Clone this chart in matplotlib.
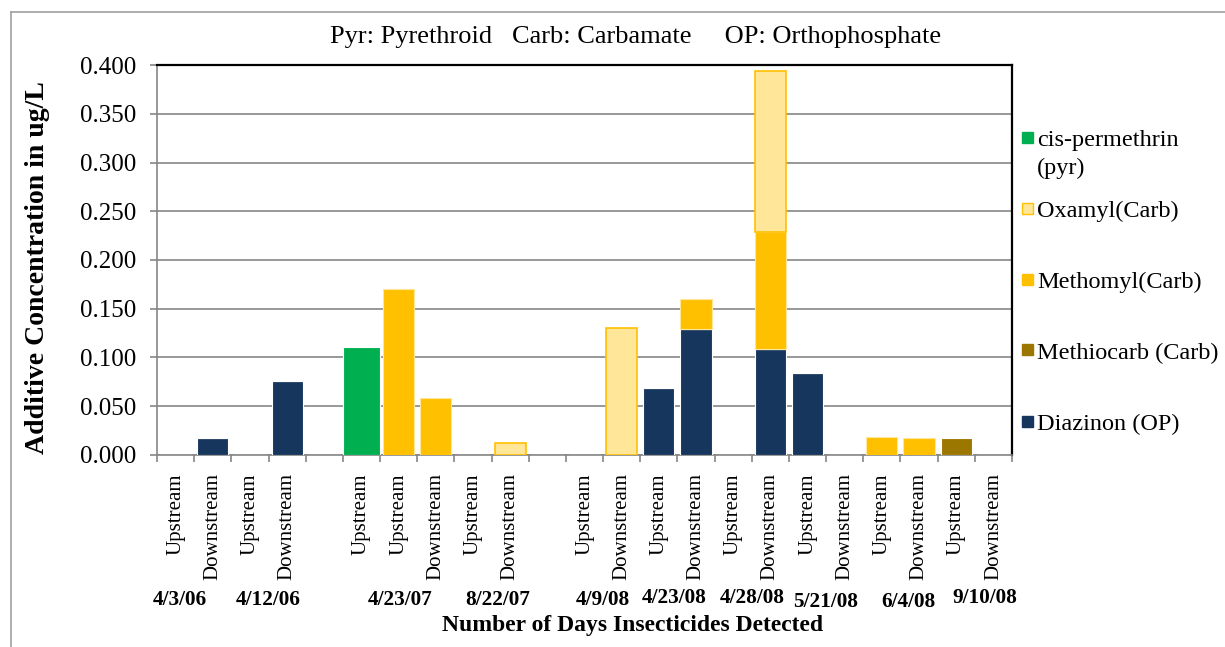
import numpy as np
import matplotlib
matplotlib.use('Agg')
import matplotlib.pyplot as plt
from matplotlib.patches import Rectangle

plt.rcParams['font.family'] = ['Liberation Serif', 'DejaVu Serif']

# categorias do eixo x (espacos vazios = intervalo entre grupos)
sites = ['Upstream', 'Downstream', 'Upstream', 'Downstream', '',
         'Upstream', 'Upstream', 'Downstream', 'Upstream', 'Downstream', '',
         'Upstream', 'Downstream', 'Upstream', 'Downstream', 'Upstream',
         'Downstream', 'Upstream', 'Downstream', 'Upstream', 'Downstream',
         'Upstream', 'Downstream']

dates = ['4/3/06', '4/12/06', '4/23/07', '8/22/07', '4/9/08', '4/23/08',
         '4/28/08', '5/21/08', '6/4/08', '9/10/08']
date_x = [0.12, 2.48, 6.03, 8.67, 11.49, 13.42, 15.52, 17.48, 19.7, 21.78]
date_dy = [0, 0, 0, 0, 0, 2, 2, -2, -2, 2]

# concentracoes (ug/L)
diazinon = [0, 0.017, 0, 0.076, 0, 0, 0, 0, 0, 0, 0,
            0, 0, 0.069, 0.129, 0, 0.109, 0.084, 0, 0, 0, 0, 0]
methiocarb = [0, 0, 0, 0, 0, 0, 0, 0, 0, 0, 0,
              0, 0, 0, 0, 0, 0, 0, 0, 0, 0, 0.017, 0]
methomyl = [0, 0, 0, 0, 0, 0, 0.170, 0.058, 0, 0, 0,
            0, 0, 0, 0.031, 0, 0.120, 0, 0, 0.018, 0.017, 0, 0]
oxamyl = [0, 0, 0, 0, 0, 0, 0, 0, 0, 0.012, 0,
          0, 0.130, 0, 0, 0, 0.165, 0, 0, 0, 0, 0, 0]
permethrin = [0, 0, 0, 0, 0, 0.111, 0, 0, 0, 0, 0,
              0, 0, 0, 0, 0, 0, 0, 0, 0, 0, 0, 0]

c_diaz = '#17365D'
c_methio = '#9C7700'
c_methomyl = '#FFC000'
c_oxa = '#FFE699'
c_perm = '#00B050'

fig = plt.figure(figsize=(12.25, 6.47), dpi=100)
ax = fig.add_axes([0.1282, 0.2968, 0.6979, 0.6027])

x = np.arange(len(sites))
w = 0.84
base = np.zeros(len(sites))
ax.bar(x, diazinon, w, bottom=base, color=c_diaz, edgecolor='white', lw=0.8, zorder=3)
base = base + np.array(diazinon)
ax.bar(x, methiocarb, w, bottom=base, color=c_methio, edgecolor='white', lw=0.8, zorder=3)
base = base + np.array(methiocarb)
mm = np.array(methomyl)
ax.bar(x[mm > 0], mm[mm > 0], w, bottom=base[mm > 0], color=c_methomyl,
       edgecolor='#FFE699', lw=0.8, zorder=3)
base = base + mm
ox = np.array(oxamyl)
ax.bar(x[ox > 0], ox[ox > 0], w, bottom=base[ox > 0], color=c_oxa,
       edgecolor=c_methomyl, lw=1.2, zorder=3)
base = base + ox
pm = np.array(permethrin)
ax.bar(x[pm > 0], pm[pm > 0], 0.97, bottom=base[pm > 0], color=c_perm,
       edgecolor='white', lw=0.8, zorder=3)

ax.set_xlim(-0.5, len(sites) - 0.5)
ax.set_ylim(0, 0.4)
ax.set_yticks(np.arange(0, 0.401, 0.05))
ax.set_yticklabels(['%.3f' % v for v in np.arange(0, 0.401, 0.05)], fontsize=18)
ax.yaxis.grid(True, color='#868686', lw=1.2, zorder=0)

# ticks nas fronteiras, rotulos no centro
ax.set_xticks(np.arange(-0.5, len(sites) + 0.5, 1.0))
ax.set_xticklabels([])
ax.set_xticks(x, minor=True)
ax.set_xticklabels(sites, minor=True, rotation=90, fontsize=15)
ax.tick_params(axis='x', which='minor', length=0, pad=13)
ax.tick_params(axis='x', which='major', length=5, color='#868686', width=1.2)
ax.tick_params(axis='y', length=5, color='#868686', width=1.2, pad=10)

for s in ['left', 'bottom']:
    ax.spines[s].set_color('#868686')
    ax.spines[s].set_linewidth(1.2)
for s in ['top', 'right']:
    ax.spines[s].set_color('black')
    ax.spines[s].set_linewidth(1.6)

for d, xp, dy in zip(dates, date_x, date_dy):
    ax.annotate(d, xy=(xp, 0), xycoords=('data', 'axes fraction'),
                xytext=(0, -145 + dy), textcoords='offset pixels',
                ha='center', va='center', fontsize=15.3, fontweight='bold')

fig.text(0.516, 0.033, 'Number of Days Insecticides Detected', ha='center',
         va='center', fontsize=17, fontweight='bold')
fig.text(0.031, 0.586, 'Additive Concentration in ug/L', ha='center', va='center',
         rotation=90, fontsize=20, fontweight='bold')
fig.text(0.519, 0.943, 'Pyr: Pyrethroid   Carb: Carbamate     OP: Orthophosphate',
         ha='center', va='center', fontsize=19)

# legenda montada a mao (Excel centraliza a entrada de duas linhas)
leg_labels = ['cis-permethrin\n(pyr)', 'Oxamyl(Carb)', 'Methomyl(Carb)',
              'Methiocarb (Carb)', 'Diazinon (OP)']
leg_faces = [c_perm, c_oxa, c_methomyl, c_methio, c_diaz]
leg_edges = [c_perm, c_methomyl, c_methomyl, c_methio, c_diaz]
W, H = 1225.0, 647.0
for i, (lab, fc, ec) in enumerate(zip(leg_labels, leg_faces, leg_edges)):
    yc = 137 + i * 71
    fig.add_artist(Rectangle((1022 / W, 1 - (yc + 5.5) / H), 11 / W, 11 / H,
                             facecolor=fc, edgecolor=ec, lw=1,
                             transform=fig.transFigure))
    fig.text(1037 / W, 1 - (yc - 7) / H, lab, ha='left', va='top',
             fontsize=17.5, linespacing=1.45)

# moldura cinza
fig.add_artist(plt.Line2D([10.5 / W, 10.5 / W], [0, 1 - 12 / H],
                          color='#A0A0A0', lw=1.2, transform=fig.transFigure))
fig.add_artist(plt.Line2D([10.5 / W, 1], [1 - 12 / H, 1 - 12 / H],
                          color='#A0A0A0', lw=1.2, transform=fig.transFigure))

fig.savefig('out.png', dpi=100)
